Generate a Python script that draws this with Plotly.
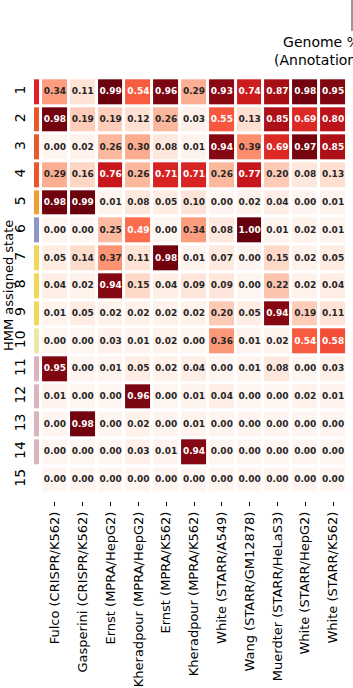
import plotly.graph_objects as go

W, H = 353, 688

states = [str(i) for i in range(1, 16)]
datasets = [
    "Fulco (CRISPR/K562)", "Gasperini (CRISPR/K562)", "Ernst (MPRA/HepG2)",
    "Kheradpour (MPRA/HepG2)", "Ernst (MPRA/K562)", "Kheradpour (MPRA/K562)",
    "White (STARR/A549)", "Wang (STARR/GM12878)", "Muerdter (STARR/HeLaS3)",
    "White (STARR/HepG2)", "White (STARR/K562)",
]

row1 = [0.34, 0.11, 0.99, 0.54, 0.96, 0.29, 0.93, 0.74, 0.87, 0.98, 0.95]
row2 = [0.98, 0.19, 0.19, 0.12, 0.26, 0.03, 0.55, 0.13, 0.85, 0.69, 0.80]
row3 = [0.00, 0.02, 0.26, 0.30, 0.08, 0.01, 0.94, 0.39, 0.69, 0.97, 0.85]
row4 = [0.29, 0.16, 0.76, 0.26, 0.71, 0.71, 0.26, 0.77, 0.20, 0.08, 0.13]
row5 = [0.98, 0.99, 0.01, 0.08, 0.05, 0.10, 0.00, 0.02, 0.04, 0.00, 0.01]
row6 = [0.00, 0.00, 0.25, 0.49, 0.00, 0.34, 0.08, 1.00, 0.01, 0.02, 0.01]
row7 = [0.05, 0.14, 0.37, 0.11, 0.98, 0.01, 0.07, 0.00, 0.15, 0.02, 0.05]
row8 = [0.04, 0.02, 0.94, 0.15, 0.04, 0.09, 0.09, 0.00, 0.22, 0.02, 0.04]
row9 = [0.01, 0.05, 0.02, 0.02, 0.02, 0.02, 0.20, 0.05, 0.94, 0.19, 0.11]
row10 = [0.00, 0.00, 0.03, 0.01, 0.02, 0.00, 0.36, 0.01, 0.02, 0.54, 0.58]
row11 = [0.95, 0.00, 0.01, 0.05, 0.02, 0.04, 0.00, 0.01, 0.08, 0.00, 0.03]
row12 = [0.01, 0.00, 0.00, 0.96, 0.00, 0.01, 0.04, 0.00, 0.00, 0.02, 0.01]
row13 = [0.00, 0.98, 0.00, 0.02, 0.00, 0.01, 0.00, 0.00, 0.00, 0.00, 0.00]
row14 = [0.00, 0.00, 0.00, 0.03, 0.01, 0.94, 0.00, 0.00, 0.00, 0.00, 0.00]
row15 = [0.00, 0.00, 0.00, 0.00, 0.00, 0.00, 0.00, 0.00, 0.00, 0.00, 0.00]
values = [row1, row2, row3, row4, row5, row6, row7, row8, row9, row10,
          row11, row12, row13, row14, row15]

state_colors = [
    "#e0202c", "#e8582a", "#e8582a", "#e8582a", "#f0a030", "#8c96cc",
    "#f0d858", "#f0d858", "#f0d858", "#ece8a4", "#dcb4bc", "#dcb4bc",
    "#dcb4bc", "#dcb4bc", "#ffffff",
]

reds = ["#fff5f0", "#fee0d2", "#fcbba1", "#fc9272", "#fb6a4a",
        "#ef3b2c", "#cb181d", "#a50f15", "#67000d"]
reds_scale = [[i / (len(reds) - 1), c] for i, c in enumerate(reds)]

n = len(states)
strip_scale = [[i / (n - 1), c] for i, c in enumerate(state_colors)]

FONT = "DejaVu Sans"

fig = go.Figure()
fig.add_trace(go.Heatmap(
    z=values, x=datasets, y=states, colorscale=reds_scale, zmin=0, zmax=1,
    xgap=3, ygap=3, showscale=False, hoverinfo="skip",
    xaxis="x", yaxis="y",
))
fig.add_trace(go.Heatmap(
    z=[[i / (n - 1)] for i in range(n)], x=[0], y=states,
    colorscale=strip_scale, zmin=0, zmax=1, ygap=3, showscale=False,
    hoverinfo="skip", xaxis="x2", yaxis="y",
))

tx, ty, tt, tc = [], [], [], []
for r, s in enumerate(states):
    for c, d in enumerate(datasets):
        v = values[r][c]
        tx.append(d)
        ty.append(s)
        tt.append(f"{v:.2f}")
        tc.append("#ffffff" if v >= 0.45 else "#262626")
fig.add_trace(go.Scatter(
    x=tx, y=ty, text=tt, mode="text",
    textfont=dict(family=FONT, size=9, color=tc, weight="bold"),
    hoverinfo="skip", showlegend=False, xaxis="x", yaxis="y",
))

y0 = (H - 501.4) / H
y1 = (H - 70.6) / H
fig.update_layout(
    width=W, height=H,
    margin=dict(l=0, r=0, t=0, b=0),
    paper_bgcolor="white", plot_bgcolor="white",
    font=dict(family=FONT, color="#000000"),
    showlegend=False,
    xaxis=dict(domain=[39.5 / W, 348.5 / W], anchor="y", tickangle=-90,
               ticks="outside", ticklen=4, tickcolor="#000000",
               tickfont=dict(size=13, family=FONT), showgrid=False,
               zeroline=False, automargin=False, showline=False),
    xaxis2=dict(domain=[34 / W, 39 / W], anchor="y", showticklabels=False,
                showgrid=False, zeroline=False, ticks=""),
    yaxis=dict(domain=[y0, y1], anchor="x2", autorange="reversed",
               tickangle=-90, ticks="", ticklabelstandoff=5,
               tickfont=dict(size=14, family=FONT), showgrid=False,
               zeroline=False, automargin=False, type="category"),
    annotations=[
        dict(text="HMM assigned state", textangle=-90, x=8 / W,
             y=(y0 + y1) / 2, xref="paper", yref="paper", showarrow=False,
             font=dict(size=13, family=FONT), xanchor="center",
             yanchor="middle"),
        dict(text="Genome %<br>(Annotations)", x=321 / W, y=1 - 51 / H,
             xref="paper", yref="paper", showarrow=False,
             font=dict(size=14, family=FONT), xanchor="center",
             yanchor="middle", align="center"),
    ],
    shapes=[
        dict(type="line", xref="paper", yref="paper", x0=352 / W, x1=352 / W,
             y0=1, y1=1 - 31 / H, line=dict(color="#333333", width=1)),
    ],
)

fig.write_html("out.html")
